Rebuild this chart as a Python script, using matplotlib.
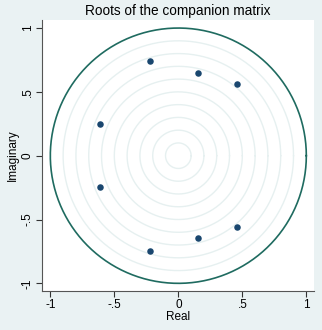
import numpy as np
import matplotlib
matplotlib.use("Agg")
import matplotlib.pyplot as plt

# roots of the companion matrix (conjugate pairs)
real = [-0.223, -0.223, 0.154, 0.154, 0.459, 0.459, -0.612, -0.612]
imag = [0.744, -0.744, 0.646, -0.646, 0.558, -0.558, 0.245, -0.245]
ring_radii = [0.1, 0.2, 0.3, 0.4, 0.5, 0.6, 0.7, 0.8, 0.9]
ticks = [-1, -0.5, 0, 0.5, 1]
tick_labels = ["-1", "-.5", "0", ".5", "1"]

plt.rcParams['font.family'] = ['Liberation Sans', 'DejaVu Sans']

bg = '#eaf2f3'
fig = plt.figure(figsize=(3.22, 3.30), dpi=100, facecolor=bg)
ax = fig.add_axes([42 / 322, 1 - 291 / 330, 272 / 322, 271 / 330])
ax.set_facecolor('white')

t = np.linspace(0, 2 * np.pi, 400)
for r in ring_radii:
    ax.plot(r * np.cos(t), r * np.sin(t), color='#e6f0f0', linewidth=1.0, zorder=1)
ax.plot(np.cos(t), np.sin(t), color='#1f6b60', linewidth=1.2, zorder=2)

ax.scatter(real, imag, s=22, color='#1a476f', zorder=3, linewidths=0)

ax.set_xlim(-1.065, 1.06)
ax.set_ylim(-1.06, 1.063)
ax.set_xticks(ticks)
ax.set_xticklabels(tick_labels)
ax.set_yticks(ticks)
ax.set_yticklabels(tick_labels, rotation=90, va='center')
ax.tick_params(labelsize=8.5, length=4, width=0.8, color='#333333', pad=2)

for s in ['top', 'right']:
    ax.spines[s].set_visible(False)
for s in ['left', 'bottom']:
    ax.spines[s].set_color('#555555')
    ax.spines[s].set_linewidth(0.8)

ax.set_xlabel("Real", fontsize=8.5, labelpad=0)
ax.set_ylabel("Imaginary", fontsize=8.5, labelpad=2)
fig.text(178 / 322, 1 - 10.5 / 330, "Roots of the companion matrix", ha='center', va='center', fontsize=9.8)

fig.savefig("out.png", dpi=100, facecolor=bg)
